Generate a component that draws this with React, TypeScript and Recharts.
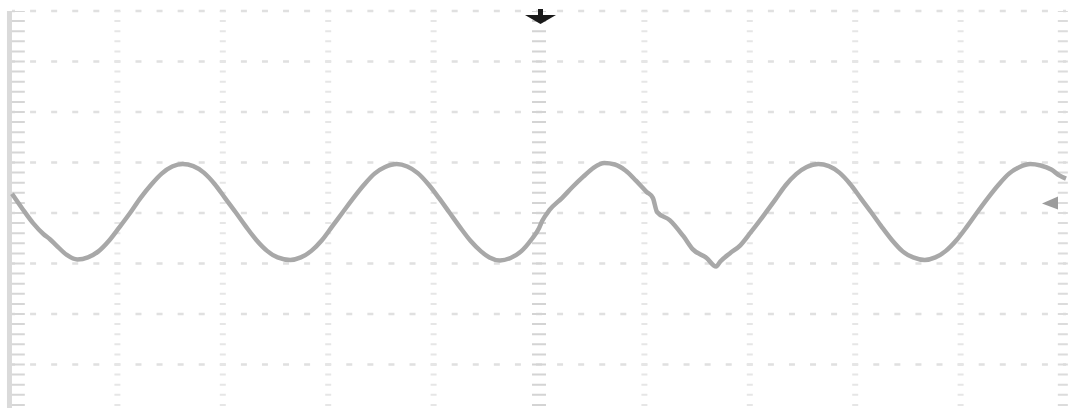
import React from 'react';
import { LineChart, Line, XAxis, YAxis, ReferenceLine, ReferenceDot } from 'recharts';

// time in divisions (10 across), volts in divisions (0 = centre line)
const time = [
  0.0, 0.1, 0.2, 0.3, 0.36, 0.42, 0.52, 0.62, 0.72, 0.82, 0.92,
  1.02, 1.12, 1.22, 1.32, 1.42, 1.52, 1.62, 1.72, 1.82, 1.92,
  2.02, 2.12, 2.22, 2.32, 2.42, 2.52, 2.64, 2.74, 2.84, 2.94,
  3.04, 3.14, 3.24, 3.34, 3.44, 3.54, 3.65, 3.75, 3.85, 3.95,
  4.05, 4.15, 4.25, 4.35, 4.45, 4.53, 4.63, 4.73, 4.83, 4.93,
  5.0, 5.03, 5.1, 5.22, 5.32, 5.42, 5.52, 5.62, 5.72, 5.82, 5.92,
  6.02, 6.08, 6.12, 6.24, 6.37, 6.46, 6.59, 6.68, 6.72, 6.81, 6.91,
  7.01, 7.12, 7.24, 7.34, 7.44, 7.54, 7.65, 7.75, 7.85, 7.95,
  8.05, 8.15, 8.25, 8.35, 8.45, 8.55, 8.66, 8.76, 8.86, 8.96,
  9.06, 9.16, 9.26, 9.36, 9.46, 9.56, 9.66, 9.76, 9.86, 9.94, 10.0,
];
const volts = [
  0.38, 0.08, -0.2, -0.42, -0.52, -0.64, -0.83, -0.92, -0.88, -0.76, -0.55,
  -0.28, 0.0, 0.3, 0.56, 0.78, 0.92, 0.97, 0.93, 0.8, 0.58,
  0.3, 0.02, -0.27, -0.54, -0.75, -0.88, -0.93, -0.88, -0.75, -0.54,
  -0.26, 0.02, 0.3, 0.56, 0.78, 0.91, 0.97, 0.92, 0.79, 0.57,
  0.3, 0.01, -0.28, -0.55, -0.76, -0.88, -0.94, -0.89, -0.76, -0.52,
  -0.3, -0.16, 0.06, 0.3, 0.52, 0.72, 0.9, 0.99, 0.96, 0.84, 0.64,
  0.42, 0.3, 0.02, -0.14, -0.46, -0.72, -0.89, -1.06, -0.96, -0.8, -0.64,
  -0.38, -0.08, 0.26, 0.55, 0.77, 0.91, 0.97, 0.93, 0.8, 0.58,
  0.3, 0.02, -0.27, -0.54, -0.76, -0.88, -0.93, -0.88, -0.75, -0.54,
  -0.27, 0.02, 0.3, 0.56, 0.78, 0.91, 0.97, 0.94, 0.86, 0.74, 0.68,
];

const gridX = [1, 2, 3, 4, 6, 7, 8, 9];
const gridY = [4, 3, 2, 1, 0, -1, -2, -3];
const centreX = 5;
const triggerMark = { t: 5, v: 4 };
const groundMark = { t: 10, v: 0.19 };

const data = time.map((t, i) => ({ t, v: volts[i] }));

const TriggerArrow = (props: any) => {
  const { cx, cy } = props;
  return (
    <g>
      <rect x={cx - 1} y={cy - 2} width={5} height={7} fill="#1a1a1a" />
      <path d={`M${cx - 14},${cy + 4} L${cx + 17},${cy + 4} L${cx + 1.5},${cy + 13} Z`} fill="#1a1a1a" />
    </g>
  );
};

const GroundArrow = (props: any) => {
  const { cx, cy } = props;
  return <path d={`M${cx - 24},${cy} L${cx - 8},${cy - 7} L${cx - 8},${cy + 6} Z`} fill="#9c9c9c" />;
};

export default function App() {
  return (
    <div style={{ position: 'absolute', left: 0, top: 0, width: 1068, height: 408, overflow: 'hidden', background: '#fff' }}>
      <LineChart width={1068} height={416} data={data} margin={{ top: 11, right: 2, bottom: 1, left: 12 }}>
        <XAxis dataKey="t" type="number" domain={[0, 10]} hide />
        <YAxis type="number" domain={[-4, 4]} hide />
        {gridY.map((y) => (
          <ReferenceLine key={'h' + y} y={y} stroke="#e0e0e0" strokeWidth={2.5} strokeDasharray="6 15.08" strokeDashoffset={3} />
        ))}
        {gridX.map((x) => (
          <ReferenceLine key={'v' + x} x={x} stroke="#e6e6e6" strokeWidth={6} strokeDasharray="2 8.1" strokeDashoffset={1} />
        ))}
        <ReferenceLine x={centreX} stroke="#d4d4d4" strokeWidth={14} strokeDasharray="2 8.1" strokeDashoffset={1} />
        <ReferenceLine x={-0.024} stroke="#dadada" strokeWidth={5} ifOverflow="visible" />
        <ReferenceLine x={0.06} stroke="#d6d6d6" strokeWidth={13} strokeDasharray="2 8.1" strokeDashoffset={1} />
        <ReferenceLine x={9.97} stroke="#dcdcdc" strokeWidth={10} strokeDasharray="2 8.1" strokeDashoffset={1} />
        <Line
          type="monotone"
          dataKey="v"
          stroke="#a8a8a8"
          strokeWidth={4.5}
          dot={false}
          isAnimationActive={false}
        />
        <ReferenceDot x={triggerMark.t} y={triggerMark.v} shape={TriggerArrow} />
        <ReferenceDot x={groundMark.t} y={groundMark.v} shape={GroundArrow} />
      </LineChart>
    </div>
  );
}
